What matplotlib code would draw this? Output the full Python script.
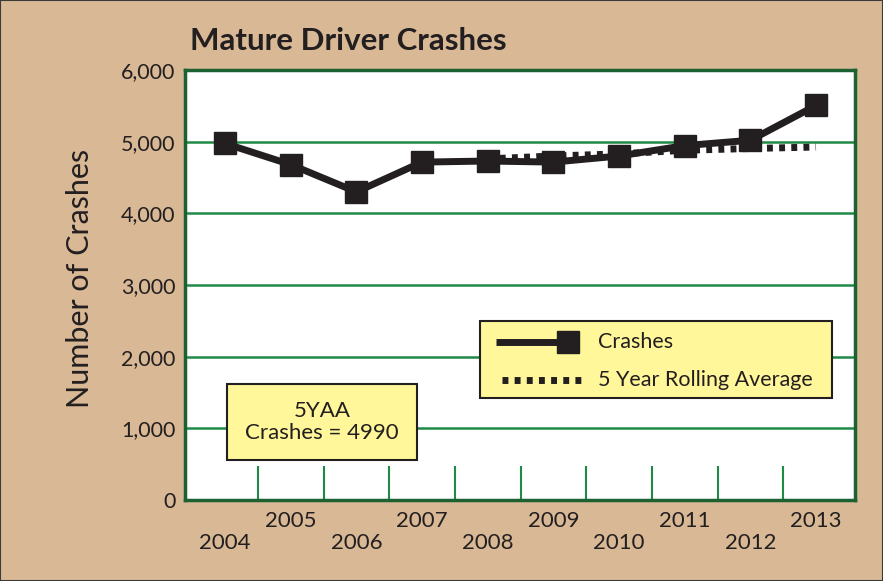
import matplotlib.pyplot as plt
from matplotlib.lines import Line2D
from matplotlib.patches import Rectangle

# Data
years = ['2004', '2005', '2006', '2007', '2008', '2009', '2010', '2011', '2012', '2013']
crashes = [4975, 4680, 4300, 4715, 4730, 4715, 4800, 4945, 5020, 5505]
rolling_avg = [None, None, None, None, 4760, 4800, 4830, 4880, 4905, 4925]
yticks = [0, 1000, 2000, 3000, 4000, 5000, 6000]

tan = '#D8B895'
green = '#1E8A45'
dark_green = '#1B6132'
ink = '#231F20'
yellow = '#FFF799'
dots = (0, (0.85, 0.9))

plt.rcParams['font.family'] = ['Lato', 'DejaVu Sans']

fig = plt.figure(figsize=(8.83, 5.81), dpi=100, facecolor=tan)
fig.patches.append(Rectangle((0, 0), 1, 1, transform=fig.transFigure, fill=False,
                             edgecolor='#3a3a3a', linewidth=1.5))
ax = fig.add_axes([0.2095, 0.1394, 0.7585, 0.7401])
ax.set_facecolor('white')

x = list(range(len(years)))

# Grid lines
for v in yticks[1:-1]:
    ax.axhline(v, color=green, linewidth=1.8, zorder=1)

# Separator ticks between years
for i in range(len(years) - 1):
    ax.plot([i + 0.5, i + 0.5], [0, 460], color=green, linewidth=1.5, zorder=1)

ra_x = [i for i, v in zip(x, rolling_avg) if v is not None]
ra_y = [v for v in rolling_avg if v is not None]
ax.plot(ra_x, ra_y, color=ink, linewidth=5, linestyle=dots, zorder=2)
ax.plot(x, crashes, color=ink, linewidth=5, marker='s', markersize=16, zorder=3)

ax.set_xlim(-0.61, 9.59)
ax.set_ylim(0, 6000)
ax.set_yticks(yticks)
ax.set_yticklabels(['{:,}'.format(v) for v in yticks], fontsize=15.5, color=ink)
ax.set_xticks(x)
ax.set_xticklabels(years, fontsize=16, color=ink)
ax.tick_params(length=0)
for i, tick in enumerate(ax.xaxis.get_major_ticks()):
    tick.set_pad(8 if i % 2 else 24)
ax.tick_params(axis='y', pad=7)

for s in ax.spines.values():
    s.set_color(dark_green)
    s.set_linewidth(2.5)

fig.text(0.0906, 0.5215, 'Number of Crashes', fontsize=22, rotation=90,
         ha='center', va='center', color=ink)
fig.text(0.215, 0.914, 'Mature Driver Crashes', fontsize=22.5, fontweight='bold',
         color=ink, va='baseline')

# 5YAA box
ax.add_patch(Rectangle((0.0627, 0.093), 0.2836, 0.177, transform=ax.transAxes,
                       facecolor=yellow, edgecolor=ink, linewidth=1.5, zorder=4))
ax.text(0.2045, 0.1815, '5YAA\nCrashes = 4990', transform=ax.transAxes, ha='center',
        va='center', fontsize=16, color=ink, linespacing=1.15, zorder=5)

# Legend
ax.add_patch(Rectangle((0.44, 0.237), 0.526, 0.179, transform=ax.transAxes,
                       facecolor=yellow, edgecolor=ink, linewidth=1.5, zorder=4))
ax.add_line(Line2D([0.464, 0.565], [0.367, 0.367], transform=ax.transAxes,
                   color=ink, linewidth=5, solid_capstyle='butt', zorder=5))
ax.add_line(Line2D([0.572], [0.367], transform=ax.transAxes, color=ink,
                   marker='s', markersize=16, linestyle='none', zorder=5))
ax.add_line(Line2D([0.473, 0.6], [0.279, 0.279], transform=ax.transAxes,
                   color=ink, linewidth=5, linestyle=dots, zorder=5))
ax.text(0.616, 0.367, 'Crashes', transform=ax.transAxes, fontsize=15.5,
        color=ink, va='center', zorder=5)
ax.text(0.616, 0.279, '5 Year Rolling Average', transform=ax.transAxes, fontsize=15.5,
        color=ink, va='center', zorder=5)

fig.savefig('out.png', dpi=100, facecolor=tan)
